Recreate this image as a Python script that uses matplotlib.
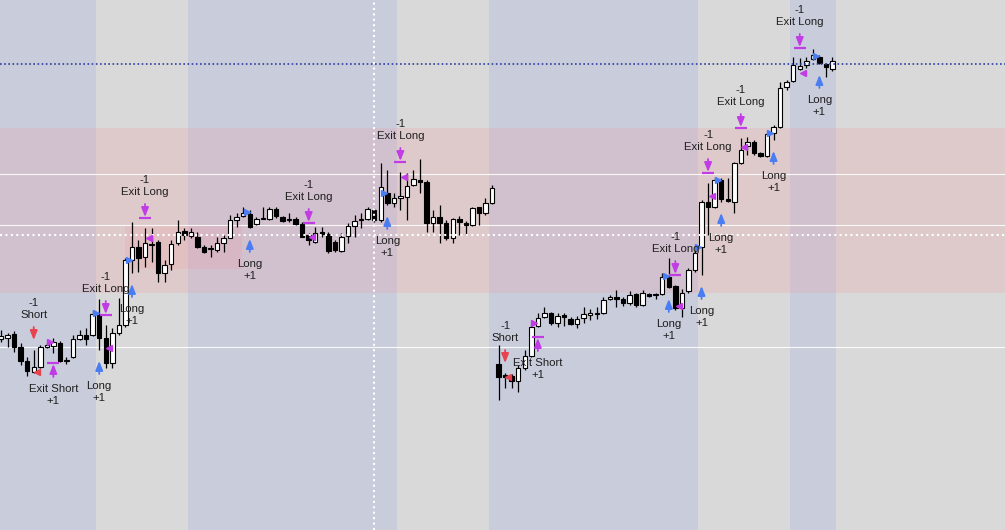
import numpy as np
import matplotlib.pyplot as plt
from matplotlib.transforms import offset_copy

# OHLC (arbitrary price units)
opens = [191, 192, 196, 183, 169, 158, 163, 183, 184, 187,
         169, 173, 191, 195, 195, 215, 192, 167, 197, 205,
         270, 283, 273, 286, 288, 257, 266, 287, 299, 294,
         293, 283, 281, 280, 287, 292, 310, 314, 316, 306,
         311.5, 311, 321, 313, 310, 311, 306, 295, 288, 298,
         296, 288, 279, 294, 304, 310.5, 311, 320, 310, 337,
         327, 332, 333, 345, 350, 348, 307, 313, 307, 292,
         311, 307, 305, 323, 317, 327, 166, 155, 154, 149,
         162, 174, 204, 213, 217, 207, 215, 211, 206, 212,
         215, 216.5, 217, 231, 233, 231, 227, 236, 225, 236,
         235, 236, 253, 244, 222, 239, 260, 283, 328, 323,
         350, 331, 328, 367, 384, 388, 377, 374, 397, 403,
         443, 449, 461, 465, 471, 473, 466, 461]
highs = [200, 197, 199, 187, 173, 180, 185, 188, 192, 189,
         173, 195, 200, 202, 220, 231, 205, 202, 232, 272,
         308, 290, 302, 302, 290, 270, 290, 310, 302, 302,
         298, 285, 285, 293, 295, 315, 317, 323, 320, 313,
         323, 323, 323, 314, 317, 313, 308, 297, 303, 303,
         298, 290, 297, 307, 315, 317, 323, 322, 367, 360,
         337, 358, 357, 360, 371, 350, 320, 325, 310, 312,
         314, 309, 323, 323, 332, 345, 185, 157, 156, 165,
         180, 205, 217, 223, 218, 217, 217, 213, 214, 223,
         221, 223, 233, 235, 240, 233, 239, 237, 240, 237,
         237, 257, 272, 245, 241, 262, 283, 330, 347, 353,
         352, 352, 368, 392, 393, 390, 378, 397, 405, 448,
         450, 473, 472, 473, 481, 475, 467, 473]
lows = [188, 183, 178, 165, 154, 157, 162, 182, 177, 168,
        166, 172, 190, 185, 194, 180, 162, 162, 195, 203,
        257, 258, 263, 268, 248, 248, 260, 285, 290, 292,
        282, 277, 273, 278, 278, 292, 303, 313, 302, 305,
        311, 310, 312, 308, 308, 305, 293, 285, 287, 293,
        277, 278, 278, 287, 293, 302, 310, 308, 308, 325,
        323, 320, 310, 344, 337, 298, 298, 287, 290, 287,
        295, 295, 304, 305, 315, 326, 130, 142, 142, 138,
        160, 173, 203, 212, 205, 203, 204, 205, 202, 207,
        210, 211, 216, 230, 223, 224, 225, 223, 224, 233,
        231, 235, 242, 220, 213, 237, 258, 255, 295, 322,
        328, 328, 317, 366, 375, 375, 373, 373, 390, 402,
        440, 448, 460, 462, 470, 466, 453, 459]
closes = [194, 195, 183, 169, 159, 163, 183, 185, 188, 169,
          169.5, 191, 195, 191, 216, 192, 167, 197, 205, 270,
          283, 272, 287, 285, 257, 265, 286, 298, 295, 298,
          283, 278, 281.5, 287, 292, 310, 313, 317, 303, 311,
          312, 321, 314, 309, 310.5, 306, 293, 290, 297, 296,
          279, 280, 293, 304, 309, 311, 321, 310, 343, 327,
          332, 334, 344, 351, 348, 307, 313, 307, 292, 311,
          308, 305, 322, 317, 327, 342, 153, 153, 149, 162,
          174, 203, 212, 217, 207, 214, 213, 206, 211, 216,
          217, 217, 230, 233, 231, 227, 235, 225, 237, 234,
          235.5, 253, 243, 222, 237, 260, 277, 328, 323, 350,
          331, 329, 367, 380, 388, 377, 374, 396, 403, 442,
          448, 465, 464, 469, 475, 467, 463, 469]

# strategy signals (bar index, fill price)
long_idx = [15, 20, 38, 59, 102, 107, 110, 118, 125]
long_fill = [217, 270, 318, 337, 254, 283, 350, 397, 474]
exit_long_idx = [16, 22, 47, 61, 103, 108, 113, 122]
exit_long_fill = [182, 292, 293, 353, 224, 334, 383, 457]
short_idx = [5, 77]
short_fill = [158, 153]
exit_short_idx = [8, 82]
exit_short_fill = [188, 207]

# session shading and levels
session_bands = [(-1, 14.5), (28.5, 60.5), (74.5, 106.5), (120.5, 127.5)]
zone_low, zone_high = 237, 402
box_x, box_low, box_high = (18.9, 36.8), 261, 305
levels = [356, 305, 183]
dotted_level = 295
last_price = 466
cursor_bar = 57

BLUE = '#4a7cf3'
PURPLE = '#c23ce6'
RED = '#e8424f'
TXT = '#1f1f1f'

fig = plt.figure(figsize=(10.05, 5.30), dpi=100)
fig.patch.set_facecolor('#d9d9d9')
ax = fig.add_axes([0, 0, 1, 1])
ax.set_xlim(-0.153, 153.35)
ax.set_ylim(0, 530)
ax.axis('off')

for a, b in session_bands:
    ax.axvspan(a, b, color='#c9cddb', lw=0, zorder=0)
ax.axhspan(zone_low, zone_high, color='#ff7a80', alpha=0.15, lw=0, zorder=1)
ax.fill_between(box_x, box_low, box_high, color='#ff7a80', alpha=0.12, lw=0, zorder=1)
for y in levels:
    ax.axhline(y, color='white', lw=0.8, alpha=0.9, zorder=2)

# candles
o = np.array(opens); h = np.array(highs); l = np.array(lows); c = np.array(closes)
idx = np.arange(len(o))
up = c >= o
ax.vlines(idx, l, h, color='black', lw=0.9, zorder=3)
ax.bar(idx, np.maximum(np.abs(c - o), 0.6), bottom=np.minimum(o, c), width=0.68,
       color=np.where(up, 'white', 'black'), edgecolor='black', linewidth=0.8, zorder=4)

ax.axhline(dotted_level, color='white', lw=1.5, ls=(0, (1, 1.6)), zorder=5)
ax.axvline(cursor_bar, color='white', lw=1.5, ls=(0, (1, 1.6)), zorder=5)
ax.axhline(last_price, color='#2b3f9e', lw=1.2, ls=(0, (1, 1.5)), zorder=5)


def shift(dy):
    return offset_copy(ax.transData, fig=fig, x=0, y=dy, units='dots')


def arrow(i, y, y0, y1, col):
    ax.annotate('', xy=(i, y), xycoords=shift(y1), xytext=(i, y), textcoords=shift(y0),
                arrowprops=dict(arrowstyle='-|>,head_length=0.55,head_width=0.22', color=col,
                                lw=1.3, shrinkA=0, shrinkB=0, mutation_scale=10), zorder=6)


def label(i, y, dy, s):
    ax.text(i, y, s, transform=shift(dy), ha='center', va='center', fontsize=8.2,
            color=TXT, family='Liberation Sans', zorder=7)


for i, p in zip(long_idx, long_fill):
    arrow(i, l[i], -24, -11, BLUE)
    label(i, l[i], -36, 'Long')
    label(i, l[i], -48, '+1')
    ax.plot(i - 0.5, p, marker='>', ms=5, color=BLUE, zorder=6)

for i, p in zip(exit_long_idx, exit_long_fill):
    arrow(i, h[i], 24, 11, PURPLE)
    ax.plot(i, h[i], marker='_', ms=8, mew=1.6, color=PURPLE, transform=shift(10), zorder=6)
    label(i, h[i], 36, 'Exit Long')
    label(i, h[i], 48, '-1')
    ax.plot(i + 0.55, p, marker='<', ms=5, color=PURPLE, zorder=6)

for i, p in zip(short_idx, short_fill):
    arrow(i, h[i], 23, 10, RED)
    label(i, h[i], 35, 'Short')
    label(i, h[i], 47, '-1')
    ax.plot(i + 0.5, p, marker='<', ms=5, color=RED, zorder=6)

for i, p in zip(exit_short_idx, exit_short_fill):
    arrow(i, l[i], -24, -11, PURPLE)
    ax.plot(i, l[i], marker='_', ms=8, mew=1.6, color=PURPLE, transform=shift(-10), zorder=6)
    label(i, l[i], -36, 'Exit Short')
    label(i, l[i], -48, '+1')
    ax.plot(i - 0.55, p, marker='>', ms=5, color=PURPLE, zorder=6)

fig.savefig('out.png', dpi=100, facecolor=fig.get_facecolor())
